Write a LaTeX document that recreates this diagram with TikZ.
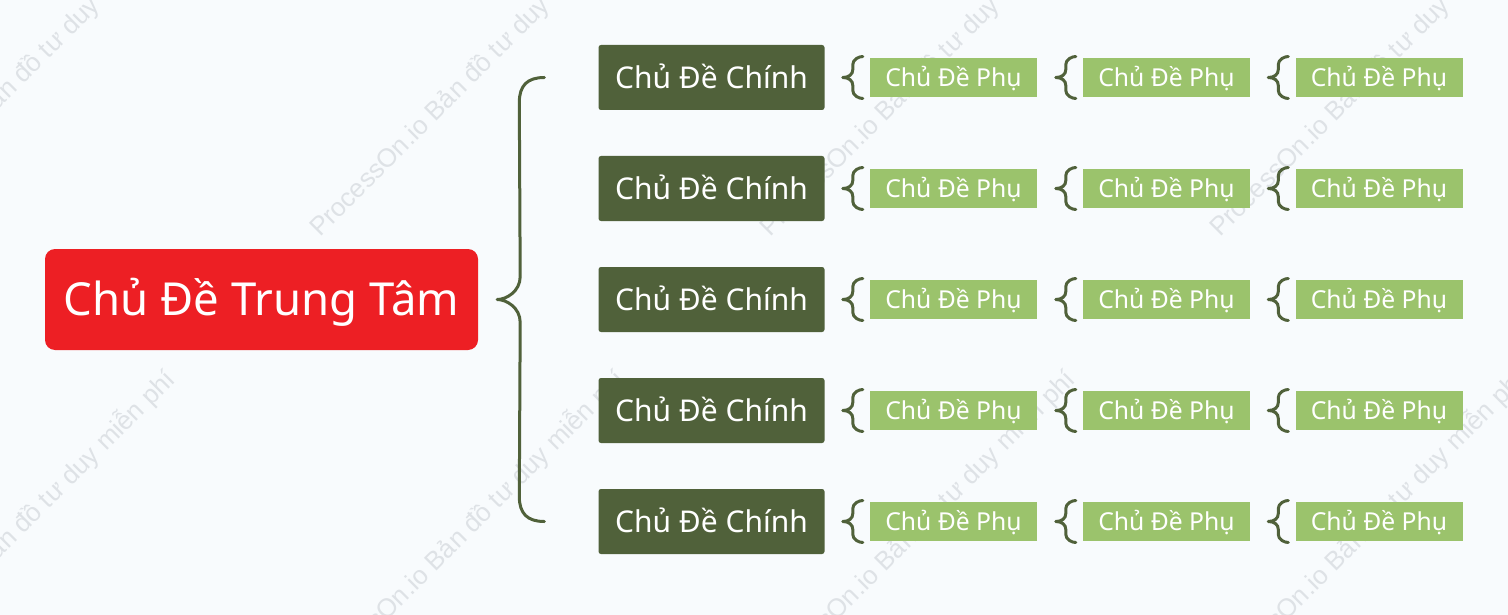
\documentclass[tikz,border=0pt]{standalone}
\usepackage{fontspec}
\setmainfont{Noto Sans}
\newfontfamily\wmfont{Liberation Sans}
\usetikzlibrary{calc}
\definecolor{bgc}{RGB}{248,251,253}
\definecolor{redc}{RGB}{237,31,36}
\definecolor{olive}{RGB}{80,97,58}
\definecolor{lightg}{RGB}{155,195,108}
\definecolor{wmc}{RGB}{222,226,230}
\tikzset{
  central/.style={fill=redc, text=white, rounded corners=10pt, minimum width=433pt, minimum height=101pt, inner sep=0pt, text height=32.5pt, text depth=0pt, font=\fontsize{45.5}{52}\selectfont},
  mainbox/.style={fill=olive, text=white, rounded corners=2.5pt, minimum width=226pt, minimum height=65pt, inner sep=0pt, text height=21.4pt, text depth=0pt, font=\fontsize{30}{34}\selectfont},
  subbox/.style={fill=lightg, text=white, minimum width=167pt, minimum height=39pt, inner sep=0pt, text height=17.6pt, text depth=0pt, font=\fontsize{24.7}{28}\selectfont},
  brace/.style={draw=olive, line width=3pt, line cap=round, line join=round},
  wm/.style={text=wmc, inner sep=0pt, rotate=45, font=\wmfont\fontsize{26}{30}\selectfont}
}
\begin{document}
\begin{tikzpicture}[x=1pt,y=-1pt]
\fill[bgc] (0,0) rectangle (1508,615);
\useasboundingbox (0,0) rectangle (1508,615);
% watermarks
\foreach \c in {108,558,1008,1458,1908}{
  \node[wm, anchor=base west] (wa\c) at (\c-238,238) {ProcessOn.io Bản đồ tư duy miễn phí};
  \node[wm, anchor=base west] (wb\c) at (\c-688,688) {ProcessOn.io Bản đồ tư duy miễn phí};
}
% central
\node[central] (c) at (261.5,299.5) {Chủ Đề Trung Tâm};
% main topics
\foreach \r/\y in {1/77.5,2/188.5,3/299.5,4/410.5,5/521.5}{
  \node[mainbox] (m\r) at (711.5,\y) {Chủ Đề Chính};
  \foreach \k/\x in {1/953.5,2/1166.5,3/1379}{
    \node[subbox] (s\r\k) at (\x,\y) {Chủ Đề Phụ};
    \coordinate (t\r\k) at ([xshift=-27pt]s\r\k.west);
    \draw[brace] (t\r\k) .. controls +(6,0) and +(0,5) .. ++(10,-8) -- ++(0,-5)
         .. controls +(0,-5) and +(-4,0) .. ++(10,-8)
         (t\r\k) .. controls +(6,0) and +(0,-5) .. ++(10,8) -- ++(0,5)
         .. controls +(0,5) and +(-4,0) .. ++(10,8);
  }
}
% big brace
\coordinate (bt) at ([xshift=-54pt]m1.west);
\coordinate (bb) at ([xshift=-54pt]m5.west);
\coordinate (tip) at ([xshift=19pt]c.east);
\draw[brace] (bt) .. controls +(-17,0) and +(0,-17) .. ++(-25,25)
   -- ($(tip)+(23,-23)$) .. controls +(0,15) and +(9,0) .. (tip)
   .. controls +(9,0) and +(0,-15) .. ($(tip)+(23,23)$)
   -- ($(bb)+(-25,-25)$) .. controls +(0,17) and +(-17,0) .. (bb);
\end{tikzpicture}
\end{document}
